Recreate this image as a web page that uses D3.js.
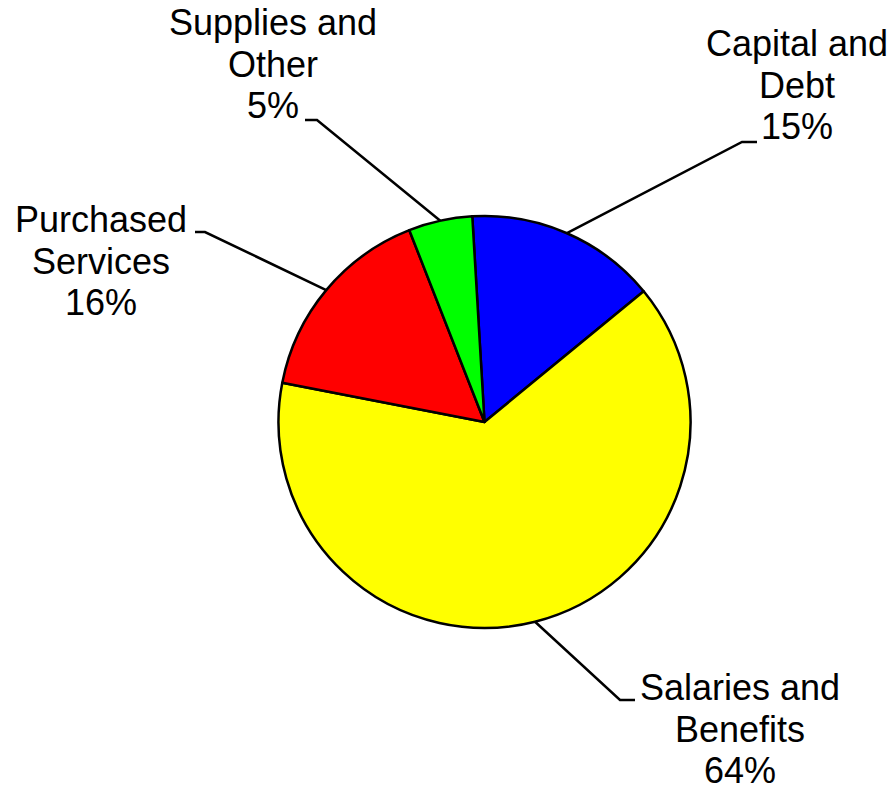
<!DOCTYPE html>
<html>
<head>
<meta charset="utf-8">
<script src="https://cdn.jsdelivr.net/npm/d3@7"></script>
<style>
  html, body { margin: 0; padding: 0; background: #fff; }
  svg { display: block; }
  text { font-family: "Liberation Sans", Arial, sans-serif; fill: #000; }
</style>
</head>
<body>
<svg id="chart" width="896" height="791"></svg>
<script>
// Budget shares, in percent, listed clockwise from the top of the pie
const categories = ["Capital and Debt", "Salaries and Benefits", "Purchased Services", "Supplies and Other"];
const values = [15, 64, 16, 5];
const colors = ["#0000ff", "#ffff00", "#ff0000", "#00ff00"];
// Label text, one entry per line
const labelLines = [
  ["Capital and", "Debt", "15%"],
  ["Salaries and", "Benefits", "64%"],
  ["Purchased", "Services", "16%"],
  ["Supplies and", "Other", "5%"]
];

// Layout: label centre x, first baseline y, and the elbow of each leader line
const labelLayout = [
  { x: 797, y: 56,  elbowX: 742, elbowY: 142, endX: 757 },
  { x: 740, y: 700, elbowX: 620, elbowY: 700, endX: 635 },
  { x: 101, y: 232, elbowX: 205, elbowY: 232, endX: 195 },
  { x: 273, y: 35,  elbowX: 317, elbowY: 120, endX: 305 }
];

const cx = 484.5, cy = 422, radius = 206;
const startRad = -3.4 * Math.PI / 180;
const lineHeight = 41.5;

const svg = d3.select("#chart");

const pie = d3.pie()
  .value(d => d.value)
  .sort(null)
  .startAngle(startRad)
  .endAngle(startRad + 2 * Math.PI);

const data = categories.map((c, i) => ({ name: c, value: values[i], color: colors[i], lines: labelLines[i], layout: labelLayout[i] }));
const arcs = pie(data);

const arc = d3.arc().innerRadius(0).outerRadius(radius);
const edgeArc = d3.arc().innerRadius(radius).outerRadius(radius);

const g = svg.append("g").attr("transform", `translate(${cx},${cy})`);

g.selectAll("path.slice")
  .data(arcs)
  .join("path")
  .attr("class", "slice")
  .attr("d", arc)
  .attr("fill", d => d.data.color)
  .attr("stroke", "#000")
  .attr("stroke-width", 2.5)
  .attr("stroke-linejoin", "round");

// Leader lines from the middle of each slice's rim to its label
svg.selectAll("polyline.leader")
  .data(arcs)
  .join("polyline")
  .attr("class", "leader")
  .attr("points", d => {
    const [ex, ey] = edgeArc.centroid(d);
    const L = d.data.layout;
    return [[cx + ex, cy + ey], [L.elbowX, L.elbowY], [L.endX, L.elbowY]].map(p => p.join(",")).join(" ");
  })
  .attr("fill", "none")
  .attr("stroke", "#000")
  .attr("stroke-width", 2.5);

// Multi-line centred labels
const labels = svg.selectAll("text.label")
  .data(arcs)
  .join("text")
  .attr("class", "label")
  .attr("text-anchor", "middle")
  .attr("font-size", 36);

labels.selectAll("tspan")
  .data(d => d.data.lines.map((t, i) => ({ t, i, L: d.data.layout })))
  .join("tspan")
  .attr("x", d => d.L.x)
  .attr("y", d => d.L.y + d.i * lineHeight)
  .text(d => d.t);
</script>
</body>
</html>
